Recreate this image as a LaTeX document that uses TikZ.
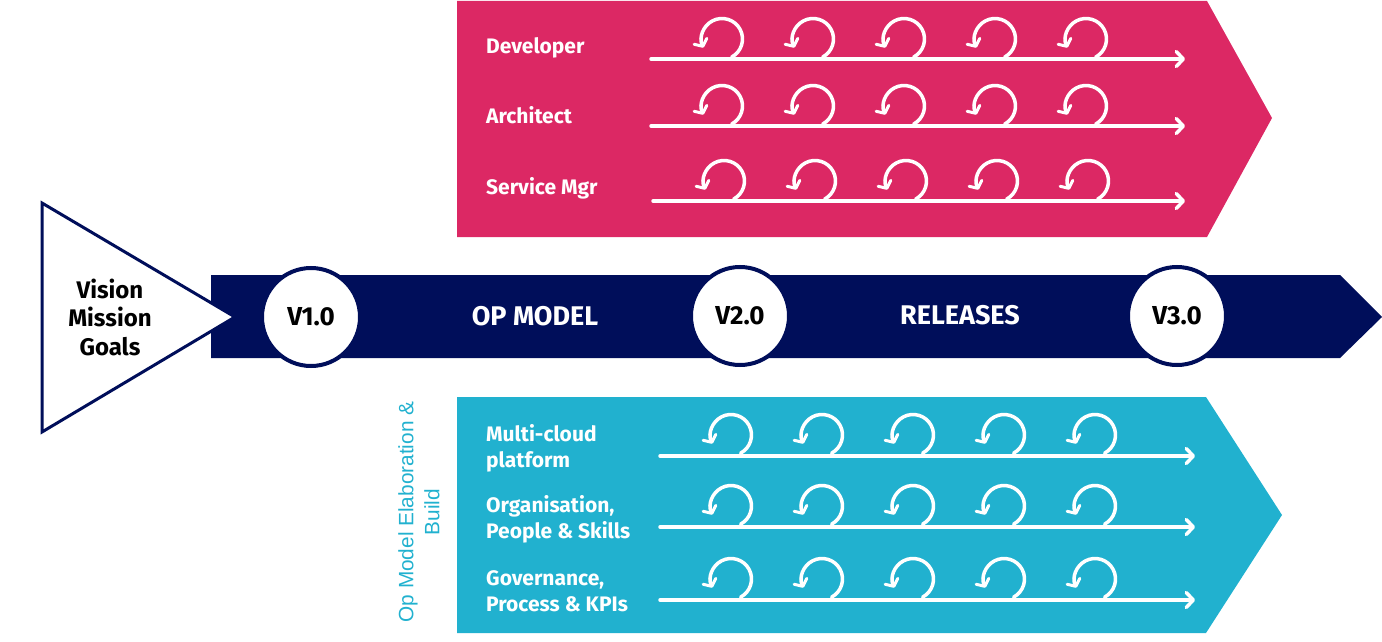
\documentclass[tikz,border=0pt]{standalone}
\usepackage{fontspec}
\setmainfont{Fira Sans}
\newfontfamily\plainsans{Liberation Sans}
\usetikzlibrary{arrows.meta,calc}
\definecolor{pinkc}{HTML}{DC2864}
\definecolor{cyanc}{HTML}{21B1CF}
\definecolor{navyc}{HTML}{000E5A}
\tikzset{
  rowlabel/.style={anchor=west, text=white, font=\fontsize{21}{26}\selectfont\bfseries, align=left, inner sep=0pt},
  bandtext/.style={text=white, font=\fontsize{27}{30}\selectfont\bfseries, inner sep=0pt},
  vcircle/.style={circle, fill=white, draw=navyc, line width=4pt, minimum size=98pt, inner sep=0pt, font=\fontsize{26}{30}\selectfont\bfseries, text=black},
  timeline/.style={white, line width=3.5pt, line cap=round, -{Straight Barb[length=7pt, width=15pt, line width=3.5pt, round]}},
  loopar/.style={white, line width=3.5pt, line cap=round, -{Straight Barb[length=5.5pt, width=14pt, line width=3pt, round]}}
}
\begin{document}
\begin{tikzpicture}[x=1pt,y=1pt]
\useasboundingbox (0,0) rectangle (1382,-642);
% pink chevron
\fill[pinkc] (457,-1) -- (1207,-1) -- (1272,-118) -- (1207,-237) -- (457,-237) -- cycle;
% cyan chevron
\fill[cyanc] (457,-397) -- (1206,-397) -- (1282,-515) -- (1206,-633) -- (457,-633) -- cycle;
% navy band
\fill[navyc] (211,-275) -- (1340,-275) -- (1382,-317) -- (1340,-358) -- (211,-358) -- cycle;
% triangle
\draw[navyc, fill=white, line width=3pt, line join=miter] (42,-203) -- (235,-317) -- (42,-432) -- cycle;
\node[font=\fontsize{24}{28.5}\selectfont\bfseries, align=center, text=black] (vmg) at (110,-317) {Vision\\Mission\\Goals};
% version circles
\node[vcircle] (v1) at (311,-317) {V1.0};
\node[vcircle] (v2) at (740,-316) {V2.0};
\node[vcircle] (v3) at (1177,-316) {V3.0};
\node[bandtext] (opm) at (535,-316) {OP MODEL};
\node[bandtext] (rel) at (960,-315) {RELEASES};
% pink rows
\node[rowlabel] (dev) at (486,-48) {Developer};
\node[rowlabel] (arc) at (486,-115) {Architect};
\node[rowlabel] (smg) at (486,-188) {Service Mgr};
\foreach \ly/\sx/\lx in {59/651/722, 126/651/722, 201/653/724}{
  \coordinate (s) at (\sx,-\ly);
  \coordinate (e) at (1185,-\ly);
  \draw[timeline] (s) -- (e);
  \foreach \k in {0,...,4}{
    \coordinate (c) at ({\lx+91*\k},{-\ly+20});
    \draw[loopar] ($(c)+(-62:20.5)$) arc[start angle=-62, end angle=205, radius=20.5];
  }
}
% cyan rows
\node[rowlabel] (mcp) at (486,-448) {Multi-cloud\\platform};
\node[rowlabel] (ops) at (486,-519) {Organisation,\\People \& Skills};
\node[rowlabel] (gpk) at (486,-591) {Governance,\\Process \& KPIs};
\foreach \ly in {456, 527, 600}{
  \coordinate (s) at (660,-\ly);
  \coordinate (e) at (1195,-\ly);
  \draw[timeline] (s) -- (e);
  \foreach \k in {0,...,4}{
    \coordinate (c) at ({731+91*\k},{-\ly+21});
    \draw[loopar] ($(c)+(-62:20.5)$) arc[start angle=-62, end angle=205, radius=20.5];
  }
}
% vertical label
\node[rotate=90, text=cyanc, font=\plainsans\fontsize{20.8}{26}\selectfont, align=center, inner sep=0pt] (elab) at (419,-512) {Op Model Elaboration \&\\Build};
\end{tikzpicture}
\end{document}
